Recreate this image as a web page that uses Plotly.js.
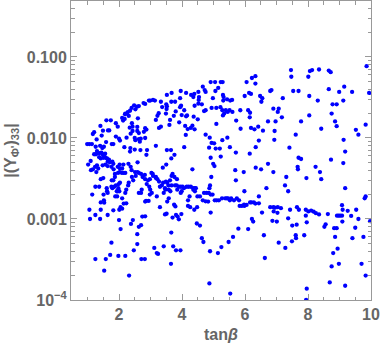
<!DOCTYPE html>
<html>
<head>
<meta charset="utf-8">
<script src="https://cdn.plot.ly/plotly-3.0.1.min.js"></script>
<style>html,body{margin:0;padding:0;background:#fff;}#chart{width:382px;height:350px;}</style>
</head>
<body>
<div id="chart"></div>
<script>
// tan(beta) values of the scan points
const tanBeta = [
9.86,9.94,7.46,7.47,8.06,8.13,8.35,8.66,8.72,8.01,7.53,7.70,8.04,8.31,8.66,9.15,8.99,9.40,8.78,8.91,
9.12,8.75,8.04,8.86,8.91,7.78,8.42,7.61,9.52,9.60,9.83,9.13,7.41,7.20,6.80,6.84,5.99,6.05,6.22,6.33,
6.33,6.13,6.19,6.48,6.55,6.52,6.90,7.07,7.04,6.73,6.97,7.17,5.85,6.10,6.16,6.15,5.86,6.19,6.30,6.42,
6.57,6.94,6.93,6.44,6.34,5.72,5.52,5.44,5.28,5.07,4.94,5.02,4.86,4.75,4.88,5.09,4.94,5.09,5.22,5.43,
5.53,5.59,5.30,5.32,5.31,5.39,5.30,5.51,5.60,5.45,5.28,5.34,4.91,5.05,5.23,5.29,5.15,5.06,4.98,4.66,
4.72,4.75,4.52,4.54,4.39,4.36,4.29,4.13,3.96,3.94,3.67,3.52,3.66,3.78,3.94,3.97,4.16,4.13,4.37,4.07,
4.40,4.53,4.70,4.75,4.52,4.63,4.50,4.33,4.28,4.40,4.10,4.18,4.12,4.07,3.99,3.91,3.80,3.74,3.62,3.60,
3.50,3.52,3.51,3.49,3.33,3.37,3.26,3.22,3.17,3.33,3.27,3.17,3.08,3.14,2.95,2.99,2.78,2.83,2.63,2.48,
2.57,2.52,2.40,2.35,2.28,2.31,2.20,2.18,2.13,2.41,2.43,2.34,2.60,2.58,2.63,2.58,2.63,2.69,2.83,2.87,
2.79,2.83,2.66,2.50,2.52,2.43,2.37,2.24,2.36,2.03,1.96,1.90,1.74,1.60,1.65,1.69,1.77,1.82,1.59,1.52,
1.40,1.29,1.45,1.41,1.49,1.21,1.17,1.14,1.06,0.99,1.26,2.19,2.25,2.10,1.90,2.00,1.47,
1.02,1.10,1.11,1.17,1.21,1.27,1.24,1.30,1.30,1.37,1.44,1.48,1.52,1.56,1.37,1.42,1.50,1.57,1.62,1.68,
1.64,1.71,1.79,1.82,1.76,1.64,1.57,1.48,1.42,1.50,1.25,1.06,1.08,1.25,1.25,1.58,1.53,1.72,1.76,1.64,
1.82,1.53,1.51,1.62,1.61,1.79,1.85,1.90,1.93,1.96,1.88,1.77,1.87,1.97,2.02,2.09,2.15,2.20,2.03,1.99,
2.01,2.10,1.98,2.20,2.05,2.15,2.23,2.20,2.23,2.31,2.29,2.32,2.38,2.44,2.47,2.58,2.58,2.63,2.71,2.82,
2.70,2.74,2.83,2.63,2.70,2.72,2.41,2.45,2.53,2.59,2.70,2.75,2.82,2.83,2.92,2.98,3.03,3.07,2.88,2.96,
2.99,3.04,2.98,2.83,2.86,2.94,3.12,3.20,3.24,3.17,3.22,3.27,3.20,3.30,3.30,3.36,3.40,3.49,3.53,3.57,
3.47,3.58,3.53,3.58,3.46,3.51,3.42,3.65,3.66,3.72,3.75,3.79,3.70,3.81,3.86,3.90,3.95,3.67,3.78,3.83,
3.90,3.96,4.02,4.06,4.15,4.21,4.28,4.36,4.41,4.44,3.62,3.67,3.70,3.76,3.84,3.85,3.96,3.99,4.19,4.24,
4.19,4.26,4.33,4.36,4.41,4.49,4.57,4.66,4.70,4.78,4.85,4.91,4.97,5.04,5.10,5.17,5.27,5.37,5.42,5.46,
5.52,4.39,4.48,4.47,4.57,4.63,4.68,4.87,4.89,4.91,4.87,4.89,4.93,4.75,4.83,5.14,5.25,5.48,5.53,5.62,
5.56,5.65,5.74,5.81,5.83,5.90,5.98,5.97,6.05,5.69,5.71,5.79,5.96,5.98,6.10,6.22,6.26,6.16,6.20,6.28,
6.33,6.44,6.44,6.34,6.51,6.54,6.60,6.63,6.68,6.73,6.80,6.90,6.95,7.04,7.14,6.87,6.91,7.03,7.07,7.28,
7.31,7.37,7.37,7.43,7.50,7.49,7.61,7.62,7.64,7.65,7.67,7.68,7.71,7.88,7.93,8.01,8.10,8.18,8.25,8.35,
7.93,7.95,7.96,7.96,8.24,8.38,8.42,8.52,8.56,8.63,8.69,8.73,8.75,8.80,8.83,8.91,8.86,8.94,8.98,8.92,
9.02,9.08,9.10,9.09,9.08,9.12,9.18,9.18,9.18,9.26,9.37,9.41,9.50,9.53,9.60,9.70,9.76,9.80,9.83,9.83,
9.97,7.94,1.15,1.37,1.42,1.42,1.40,2.00,1.76,1.64,1.52,1.98,2.01,1.94,2.10,2.05,5.71,6.15,7.70,7.78,
7.27,3.81,3.98,7.01,8.97,1.28,1.34,1.83,1.96,2.03,1.87,1.82,2.17,2.35,2.50,2.68,2.89,2.87,3.52,3.65,
3.76,3.66,3.50,3.39,4.91,4.99,5.03,5.20,5.23,2.59,2.30,2.37,2.14,2.02,2.10,2.40,2.51,2.63,3.08,3.17,
3.46,3.42,3.63,6.90
];
// |(Y_Phi')_33| values of the same points
const absY33 = [
0.077,0.036,0.069,0.057,0.067,0.069,0.070,0.068,0.065,0.057,0.038,0.038,0.033,0.029,0.040,0.043,0.037,0.037,0.026,0.026,
0.029,0.020,0.019,0.016,0.014,0.016,0.013,0.011,0.0126,0.011,0.0146,0.0095,0.0076,0.031,0.038,0.039,0.033,0.049,0.055,0.058,
0.047,0.036,0.035,0.033,0.031,0.028,0.023,0.023,0.021,0.016,0.016,0.018,0.022,0.022,0.0205,0.018,0.013,0.0133,0.0128,0.0138,
0.0123,0.0122,0.0095,0.0093,0.0077,0.0164,0.0077,0.0101,0.0094,0.0074,0.0087,0.0086,0.0076,0.011,0.0101,0.0149,0.0235,0.0235,0.024,0.030,
0.029,0.0295,0.034,0.032,0.029,0.022,0.019,0.022,0.021,0.021,0.022,0.020,0.049,0.049,0.049,0.049,0.0415,0.038,0.031,0.043,
0.039,0.037,0.037,0.032,0.035,0.032,0.034,0.036,0.038,0.031,0.036,0.034,0.028,0.028,0.024,0.025,0.019,0.0185,0.0183,0.022,
0.025,0.0295,0.0215,0.022,0.0265,0.026,0.017,0.0142,0.0133,0.0128,0.0141,0.0129,0.0109,0.0077,0.0192,0.0156,0.0213,0.0188,0.0167,0.0145,
0.026,0.0246,0.0228,0.020,0.028,0.0241,0.0202,0.0188,0.0167,0.0138,0.0133,0.0080,0.0295,0.029,0.029,0.029,0.027,0.0263,0.0248,0.0253,
0.0243,0.0226,0.0235,0.0217,0.0209,0.0187,0.020,0.0172,0.0164,0.0152,0.0138,0.0134,0.0175,0.0137,0.0115,0.0122,0.0097,0.0098,0.0132,0.0127,
0.0119,0.0100,0.0090,0.0100,0.0094,0.0122,0.0113,0.0101,0.0075,0.0093,0.0138,0.0152,0.0165,0.0165,0.0124,0.0124,0.0084,0.0084,0.0089,0.0078,
0.0080,0.0096,0.0107,0.0141,0.0123,0.0118,0.0112,0.0084,0.0084,0.0084,0.0078,0.0196,0.020,0.0177,0.0104,0.0098,0.0075,
0.0047,0.0052,0.0040,0.0041,0.0063,0.0063,0.0044,0.0046,0.0069,0.0065,0.0066,0.0063,0.0061,0.0064,0.0058,0.0056,0.0057,0.0057,0.0056,0.0054,
0.0051,0.0050,0.0051,0.0048,0.0044,0.0045,0.0047,0.0046,0.0031,0.0032,0.0025,0.0013,0.0010,0.00112,0.00032,0.00032,0.00023,0.00036,0.00051,0.00112,
0.00128,0.00159,0.0020,0.0022,0.0024,0.0024,0.0025,0.0026,0.0022,0.0022,0.0019,0.0030,0.0036,0.0037,0.0038,0.0037,0.0037,0.0037,0.0028,0.0027,
0.0013,0.00134,0.00035,0.00035,0.00075,0.00155,0.00156,0.0021,0.0023,0.0028,0.0026,0.00020,0.00087,0.00097,0.00041,0.00049,0.00065,0.0008,0.00032,0.00032,
0.00084,0.00107,0.00108,0.0021,0.0021,0.0023,0.0033,0.0030,0.0034,0.0038,0.0036,0.0033,0.0035,0.0031,0.0030,0.0031,0.0037,0.0036,0.0027,0.0025,
0.0023,0.0021,0.0020,0.00164,0.00167,0.00167,0.00044,0.00038,0.00037,0.0032,0.0031,0.0029,0.0019,0.0014,0.0025,0.0026,0.0028,0.0029,0.0028,0.0026,
0.0023,0.0023,0.00164,0.0018,0.00114,0.00116,0.00046,0.00028,0.00068,0.00046,0.0015,0.00143,0.00104,0.00112,0.00107,0.00099,0.00041,0.0026,0.0026,0.0026,
0.0025,0.0025,0.0025,0.0024,0.0025,0.0025,0.0025,0.0024,0.0024,0.0024,0.0030,0.0034,0.0036,0.0033,0.0031,0.0023,0.0021,0.0022,0.0017,0.0019,
0.00145,0.0014,0.0041,0.0023,0.0022,0.0019,0.0019,0.0017,0.0021,0.0021,0.0021,0.0020,0.0020,0.0017,0.0017,0.0017,0.0018,0.0018,0.0018,0.0018,
0.0017,0.0013,0.0014,0.00088,0.00083,0.00058,0.00052,0.00016,0.00040,0.0012,0.0024,0.0026,0.0033,0.00165,0.00164,0.00038,0.00045,0.00052,0.00012,0.00060,
0.0018,0.0017,0.0018,0.0017,0.00145,0.00145,0.00145,0.0015,0.00149,0.0040,0.0030,0.00076,0.0038,0.0022,0.00075,0.0010,0.00093,0.0016,0.0016,0.0016,
0.00155,0.00156,0.0019,0.0043,0.0041,0.0012,0.00063,0.00033,0.0024,0.0048,0.0014,0.0014,0.00138,0.0014,0.00136,0.00095,0.00124,0.00119,0.00051,0.00044,
0.0033,0.0022,0.00102,0.0013,0.00083,0.00053,0.00063,0.00058,0.00085,0.0014,0.0044,0.0041,0.0013,0.00063,0.0013,0.00124,0.00127,0.00123,0.00118,0.00114,
0.0011,0.0032,0.00091,0.000138,0.0044,0.0038,0.0031,0.0008,0.00086,0.00115,0.000165,0.0054,0.00026,0.00038,0.00077,0.00077,0.00060,0.00043,0.00028,0.0011,
0.0011,0.0011,0.0013,0.00093,0.00148,0.0049,0.0068,0.0024,0.00015,0.00126,0.00109,0.00058,0.00078,0.0013,0.0010,0.00028,0.00060,0.0018,0.0019,0.00020,
0.00094,0.0001,0.0020,0.0025,0.0016,0.0013,0.0010,0.00097,0.0025,0.0021,0.0017,0.0024,0.0022,0.0019,0.0018,0.0014,0.0066,0.0064,0.0057,0.0055,
0.0026,0.00041,0.00115,0.00093,0.0011,0.0038,0.0042,0.0041,0.0044,0.0042,0.0033,0.0030,0.0077,0.0068,0.0072,0.0071,0.0071,0.0062,0.0071,0.0071,
0.0062,0.0056,0.0047,0.0043,0.0057,0.0048,0.0045,0.0074,0.0059,0.0050,0.0048,0.0044,0.0047,0.0047,0.0042,0.0040,0.0038,0.0037,0.0034,0.0033,
0.0024,0.0021,0.0022,0.0038
];
// axis tick labels
const xTickVals = [2, 4, 6, 8, 10];
const xTickText = ['2', '4', '6', '8', '10'];
const yTickVals = [0.0001, 0.001, 0.01, 0.1];
const yTickText = ['10<sup>\u22124</sup>', '0.001', '0.010', '0.100'];

const yMinor = [];
for (let d = -4; d <= -1; d++) {
  for (let m = 2; m <= 9; m++) yMinor.push(m * Math.pow(10, d));
}

const gray = '#999999';
const labelFont = {family: 'Liberation Sans, Arial, sans-serif', size: 16, color: '#666666', weight: 'bold'};

const trace = {
  type: 'scatter', mode: 'markers',
  x: tanBeta, y: absY33,
  marker: {color: '#0000ff', size: 4.3, line: {width: 0}},
  cliponaxis: true, hoverinfo: 'skip'
};

const layout = {
  width: 382, height: 350,
  margin: {l: 71, r: 11, t: 1, b: 50, pad: 0},
  paper_bgcolor: '#ffffff', plot_bgcolor: '#ffffff',
  showlegend: false,
  xaxis: {
    range: [0.476, 10.0], autorange: false,
    tickmode: 'array', tickvals: xTickVals, ticktext: xTickText,
    ticks: 'inside', ticklen: 6, tickwidth: 1, tickcolor: gray,
    minor: {ticks: 'inside', ticklen: 3.5, tickwidth: 1, tickcolor: gray, dtick: 0.5, tick0: 0, showgrid: false},
    showline: true, linecolor: gray, linewidth: 1, mirror: 'ticks',
    showgrid: false, zeroline: false,
    tickfont: labelFont,
    title: {text: 'tan<i>β</i>', font: labelFont, standoff: 6},
    automargin: false
  },
  yaxis: {
    type: 'log', range: [-4, -0.309], autorange: false,
    tickmode: 'array', tickvals: yTickVals, ticktext: yTickText,
    ticks: 'inside', ticklen: 6, tickwidth: 1, tickcolor: gray,
    minor: {ticks: 'inside', ticklen: 3.5, tickwidth: 1, tickcolor: gray, tickmode: 'array', tickvals: yMinor, showgrid: false},
    showline: true, linecolor: gray, linewidth: 1, mirror: 'ticks',
    showgrid: false, zeroline: false,
    tickfont: labelFont,
    title: {text: '|(Y<sub>Φ\'</sub>)<sub>33</sub>|', font: labelFont, standoff: 6},
    automargin: false
  }
};

Plotly.newPlot('chart', [trace], layout, {staticPlot: true, displayModeBar: false});
</script>
</body>
</html>
